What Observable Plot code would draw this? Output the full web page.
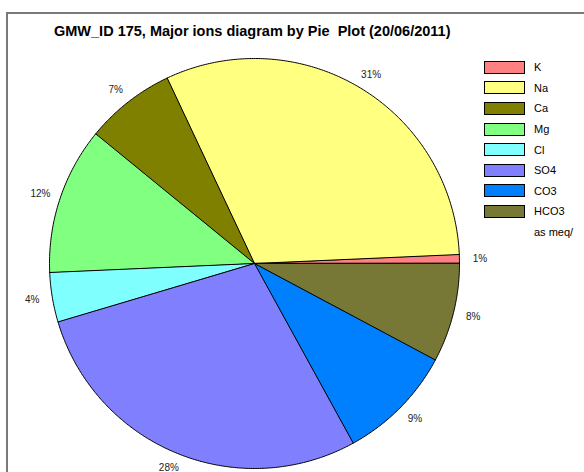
<!DOCTYPE html>
<html>
<head>
<meta charset="utf-8">
<script src="https://cdn.jsdelivr.net/npm/d3@7"></script>
<script src="https://cdn.jsdelivr.net/npm/@observablehq/plot@0.6"></script>
<style>
  html, body { margin: 0; padding: 0; background: #fff; }
  #wrap { position: relative; width: 584px; height: 472px; overflow: hidden; font-family: "Liberation Sans", Arial, sans-serif; }
  #frame { position: absolute; left: 6px; top: 12px; width: 700px; height: 600px; border-left: 2px solid #7a7a7a; border-top: 2px solid #7a7a7a; }
  #title { position: absolute; left: 54px; top: 23px; font-weight: bold; font-size: 14.5px; white-space: pre; color: #000; }
  #legend { position: absolute; left: 484px; top: 57px; font-size: 11px; color: #000; }
  .row { height: 20.6px; display: flex; align-items: center; }
  .sw { width: 39px; height: 11px; border: 1px solid #000; margin-right: 9px; }
  .note { padding-left: 50px; }
  #chart { position: absolute; left: 0; top: 0; }
</style>
</head>
<body>
<div id="wrap">
  <div id="frame"></div>
  <div id="chart"></div>
  <div id="title"></div>
  <div id="legend"></div>
</div>
<script>
const titleText = "GMW_ID 175, Major ions diagram by Pie  Plot (20/06/2011)";
const ions = ["K", "Na", "Ca", "Mg", "Cl", "SO4", "CO3", "HCO3"];
const legendLabels = ["K", "Na", "Ca", "Mg", "Cl", "SO4", "CO3", "HCO3"];
const meq = [0.7, 31.3, 7.1, 11.6, 3.9, 28.4, 9.2, 7.8];
const colors = ["#ff8080", "#ffff80", "#808000", "#80ff80", "#80ffff", "#8080ff", "#0080ff", "#787836"];
const unitNote = "as meq/";

const total = d3.sum(meq);
let cum = 0;
const slices = ions.map((ion, i) => {
  const a0 = cum / total * 2 * Math.PI;
  cum += meq[i];
  const a1 = cum / total * 2 * Math.PI;
  return {ion, a0, a1, pct: Math.round(meq[i] / total * 100)};
});

const pts = [];
for (const s of slices) {
  pts.push({ion: s.ion, u: 0, v: 0});
  const n = Math.max(2, Math.ceil((s.a1 - s.a0) / (Math.PI / 360)));
  for (let k = 0; k <= n; k++) {
    const a = s.a0 + (s.a1 - s.a0) * k / n;
    pts.push({ion: s.ion, u: Math.cos(a), v: Math.sin(a)});
  }
}

const labelRx = 1.1, labelRy = 1.075;
const labels = slices.map(s => {
  const m = (s.a0 + s.a1) / 2;
  return {u: labelRx * Math.cos(m), v: labelRy * Math.sin(m), text: s.pct + "%"};
});

const cx = 254, cy = 263, R = 205, W = 584, H = 472;
const chart = Plot.plot({
  width: W,
  height: H,
  margin: 0,
  x: {domain: [-cx / R, (W - cx) / R], range: [0, W], axis: null},
  y: {domain: [-(H - cy) / R, cy / R], range: [H, 0], axis: null},
  color: {domain: ions, range: colors},
  style: {background: "transparent", overflow: "visible"},
  marks: [
    Plot.line(pts, {x: "u", y: "v", z: "ion", fill: "ion", stroke: "#000", strokeWidth: 1, curve: "linear-closed"}),
    Plot.text(labels, {x: "u", y: "v", text: "text", fontSize: 10, fill: "#222", fontFamily: "Liberation Sans, Arial, sans-serif"})
  ]
});
document.getElementById("chart").appendChild(chart);

document.getElementById("title").textContent = titleText;
const legend = document.getElementById("legend");
legendLabels.forEach((lab, i) => {
  const row = document.createElement("div");
  row.className = "row";
  const sw = document.createElement("div");
  sw.className = "sw";
  sw.style.background = colors[i];
  const t = document.createElement("span");
  t.textContent = lab;
  row.appendChild(sw);
  row.appendChild(t);
  legend.appendChild(row);
});
const note = document.createElement("div");
note.className = "row note";
note.textContent = unitNote;
legend.appendChild(note);
</script>
</body>
</html>
